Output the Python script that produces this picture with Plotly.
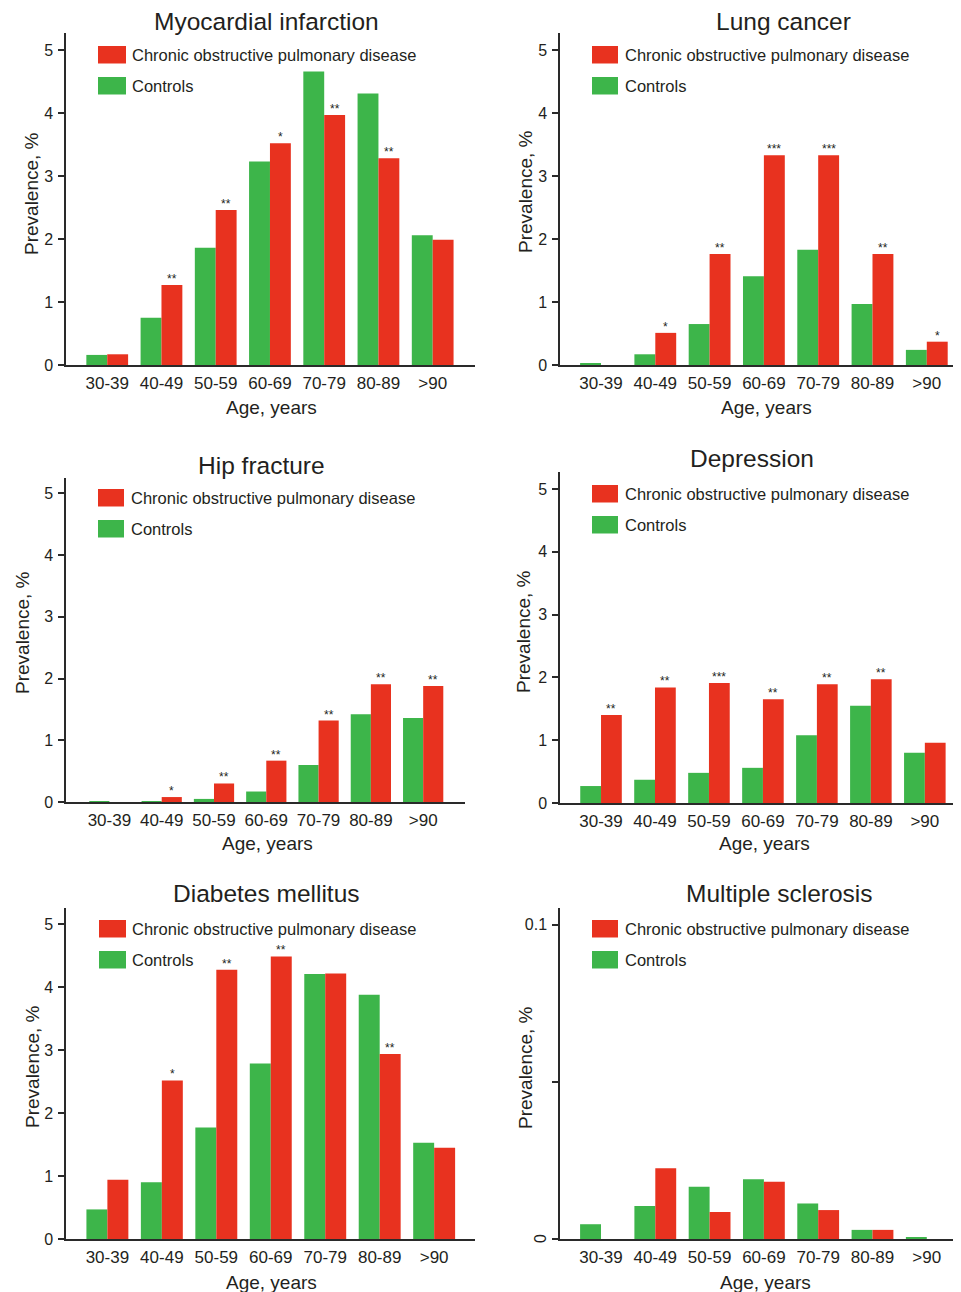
import plotly.graph_objects as go

# The page body adds an 8 px margin, so the figure is 8 px smaller and
# every pixel position below is shifted by OFF.
OFF = 8
PAGE_W, PAGE_H = 961, 1292
W, H = PAGE_W - OFF, PAGE_H - OFF

categories = ["30-39", "40-49", "50-59", "60-69", "70-79", "80-89", ">90"]
copd_name = "Chronic obstructive pulmonary disease"
ctrl_name = "Controls"

# Myocardial infarction
mi_copd = [0.17, 1.27, 2.46, 3.52, 3.97, 3.28, 1.99]
mi_ctrl = [0.16, 0.75, 1.86, 3.23, 4.66, 4.31, 2.06]
mi_sig = ["", "**", "**", "*", "**", "**", ""]

# Lung cancer
lc_copd = [0.0, 0.51, 1.76, 3.33, 3.33, 1.76, 0.37]
lc_ctrl = [0.03, 0.17, 0.65, 1.41, 1.83, 0.97, 0.24]
lc_sig = ["", "*", "**", "***", "***", "**", "*"]

# Hip fracture
hf_copd = [0.0, 0.08, 0.30, 0.67, 1.32, 1.91, 1.88]
hf_ctrl = [0.005, 0.01, 0.05, 0.17, 0.60, 1.42, 1.36]
hf_sig = ["", "*", "**", "**", "**", "**", "**"]

# Depression
dep_copd = [1.40, 1.84, 1.91, 1.65, 1.89, 1.97, 0.96]
dep_ctrl = [0.27, 0.37, 0.48, 0.56, 1.08, 1.55, 0.80]
dep_sig = ["**", "**", "***", "**", "**", "**", ""]

# Diabetes mellitus
dm_copd = [0.94, 2.52, 4.28, 4.49, 4.22, 2.94, 1.45]
dm_ctrl = [0.47, 0.90, 1.77, 2.79, 4.21, 3.88, 1.53]
dm_sig = ["", "*", "**", "**", "", "**", ""]

# Multiple sclerosis
ms_copd = [0.0, 0.0225, 0.0086, 0.0182, 0.0092, 0.0029, 0.0]
ms_ctrl = [0.0047, 0.0105, 0.0166, 0.0190, 0.0113, 0.0029, 0.0005]
ms_sig = ["", "", "", "", "", "", ""]

titles = ["Myocardial infarction", "Lung cancer", "Hip fracture",
          "Depression", "Diabetes mellitus", "Multiple sclerosis"]

RED = "#E8321F"
GREEN = "#3DB54A"
TXT = "#231F20"
AX = "#2a2a2a"
FONT = "Arial, Liberation Sans, sans-serif"

panels = [
    dict(copd=mi_copd, ctrl=mi_ctrl, sig=mi_sig),
    dict(copd=lc_copd, ctrl=lc_ctrl, sig=lc_sig),
    dict(copd=hf_copd, ctrl=hf_ctrl, sig=hf_sig),
    dict(copd=dep_copd, ctrl=dep_ctrl, sig=dep_sig),
    dict(copd=dm_copd, ctrl=dm_ctrl, sig=dm_sig),
    dict(copd=ms_copd, ctrl=ms_ctrl, sig=ms_sig),
]

# layout geometry in page pixels: (x0, x1, ytop, ybottom, xrange, ymax)
geom = [
    (66, 475, 33, 365, [-0.76, 6.78], 5.27),
    (560, 961, 33, 365, [-0.755, 6.63], 5.27),
    (66, 465, 478, 802, [-0.83, 6.80], 5.25),
    (560, 961, 472, 803, [-0.76, 6.67], 5.27),
    (66, 475, 908, 1239, [-0.76, 6.75], 5.26),
    (560, 961, 908, 1239, [-0.755, 6.63], 0.1053),
]
title_pos = [(266, 22), (783, 22), (261, 465), (752, 458), (266, 893), (779, 893)]
xtitle_pos = [(271, 407), (766, 407), (267, 843), (764, 843), (271, 1282), (765, 1282)]
ytitle_pos = [(32, 194), (525, 192), (22, 633), (523, 632), (32, 1067), (525, 1068)]
# legend: (swatch x0, swatch x1, red y0, green y0, text x)
leg_pos = [
    (98, 126, 46, 77, 130),
    (592, 618, 46, 77, 623),
    (98, 124, 489, 520, 129),
    (592, 618, 485, 516, 623),
    (99, 126, 920, 951, 130),
    (592, 618, 920, 951, 623),
]
SW_H = 17.5

BW = 0.385
xs = list(range(len(categories)))


def px(x):
    return min(max((x - OFF) / W, 0.0), 1.0)


def py(y):
    return min(max(1 - (y - OFF) / H, 0.0), 1.0)


fig = go.Figure()
annotations = []
shapes = []
layout = {}

for k, (p, g) in enumerate(zip(panels, geom), start=1):
    sfx = "" if k == 1 else str(k)
    xa, ya = "x" + sfx, "y" + sfx
    fig.add_trace(go.Bar(x=xs, y=p["ctrl"], width=BW, offset=-BW, marker_color=GREEN,
                         marker_line_width=0, name=ctrl_name, showlegend=False,
                         xaxis=xa, yaxis=ya))
    fig.add_trace(go.Bar(x=xs, y=p["copd"], width=BW, offset=0, marker_color=RED,
                         marker_line_width=0, name=copd_name, showlegend=False,
                         xaxis=xa, yaxis=ya))
    x0, x1, yt, yb, xr, ymax = g
    is_ms = (k == 6)
    layout["xaxis" + sfx] = dict(
        domain=[px(x0), px(x1)], range=xr, anchor=ya,
        showline=True, linecolor=AX, linewidth=1.5, ticks="",
        tickvals=xs, ticktext=categories, tickfont=dict(size=17, color=TXT),
        ticklabelstandoff=2, showgrid=False, zeroline=False, fixedrange=True)
    layout["yaxis" + sfx] = dict(
        domain=[py(yb), py(yt)], range=[0, ymax], anchor=xa,
        showline=True, linecolor=AX, linewidth=1.5, ticks="outside", ticklen=6,
        tickwidth=1.5, tickcolor=AX,
        tickvals=[0, 0.05, 0.1] if is_ms else [0, 1, 2, 3, 4, 5],
        ticktext=["", "", "0.1"] if is_ms else ["0", "1", "2", "3", "4", "5"],
        tickfont=dict(size=16, color=TXT), ticklabelstandoff=2,
        showgrid=False, zeroline=False, fixedrange=True)
    # significance stars
    for i, s in enumerate(p["sig"]):
        if s:
            annotations.append(dict(x=xs[i] + BW / 2, y=p["copd"][i], xref=xa, yref=ya,
                                    text=s, showarrow=False, yanchor="bottom",
                                    xanchor="center", yshift=-3,
                                    font=dict(size=12, color=TXT)))
    # title
    tx, ty = title_pos[k - 1]
    annotations.append(dict(x=px(tx), y=py(ty), xref="paper", yref="paper",
                            text=titles[k - 1], showarrow=False, xanchor="center",
                            yanchor="middle", borderpad=0,
                            font=dict(size=24.5, color=TXT)))
    # axis titles
    ax_, ay_ = xtitle_pos[k - 1]
    annotations.append(dict(x=px(ax_), y=py(ay_), xref="paper", yref="paper",
                            text="Age, years", showarrow=False, xanchor="center",
                            yanchor="middle", font=dict(size=19, color=TXT)))
    bx, by = ytitle_pos[k - 1]
    annotations.append(dict(x=px(bx), y=py(by), xref="paper", yref="paper",
                            text="Prevalence, %", showarrow=False, xanchor="center",
                            yanchor="middle", textangle=-90,
                            font=dict(size=19, color=TXT)))
    # legend
    sx0, sx1, ry, gy, tx_ = leg_pos[k - 1]
    for (yy, col, name) in [(ry, RED, copd_name), (gy, GREEN, ctrl_name)]:
        shapes.append(dict(type="rect", xref="paper", yref="paper",
                           x0=px(sx0), x1=px(sx1), y0=py(yy + SW_H), y1=py(yy),
                           fillcolor=col, line=dict(width=0)))
        annotations.append(dict(x=px(tx_), y=py(yy + SW_H / 2), xref="paper", yref="paper",
                                text=name, showarrow=False, xanchor="left",
                                yanchor="middle", font=dict(size=16.5, color=TXT)))

# rotated zero label on the multiple sclerosis axis
annotations.append(dict(x=px(540), y=0, xref="paper", yref="y6", text="0",
                        showarrow=False, textangle=-90, xanchor="center",
                        yanchor="middle", font=dict(size=16, color=TXT)))

fig.update_layout(
    width=W, height=H, template="none",
    margin=dict(l=0, r=0, t=0, b=0, pad=0),
    paper_bgcolor="white", plot_bgcolor="white",
    font=dict(family=FONT, color=TXT),
    barmode="overlay", showlegend=False,
    annotations=annotations, shapes=shapes,
    **layout,
)

fig.write_html("out.html")
